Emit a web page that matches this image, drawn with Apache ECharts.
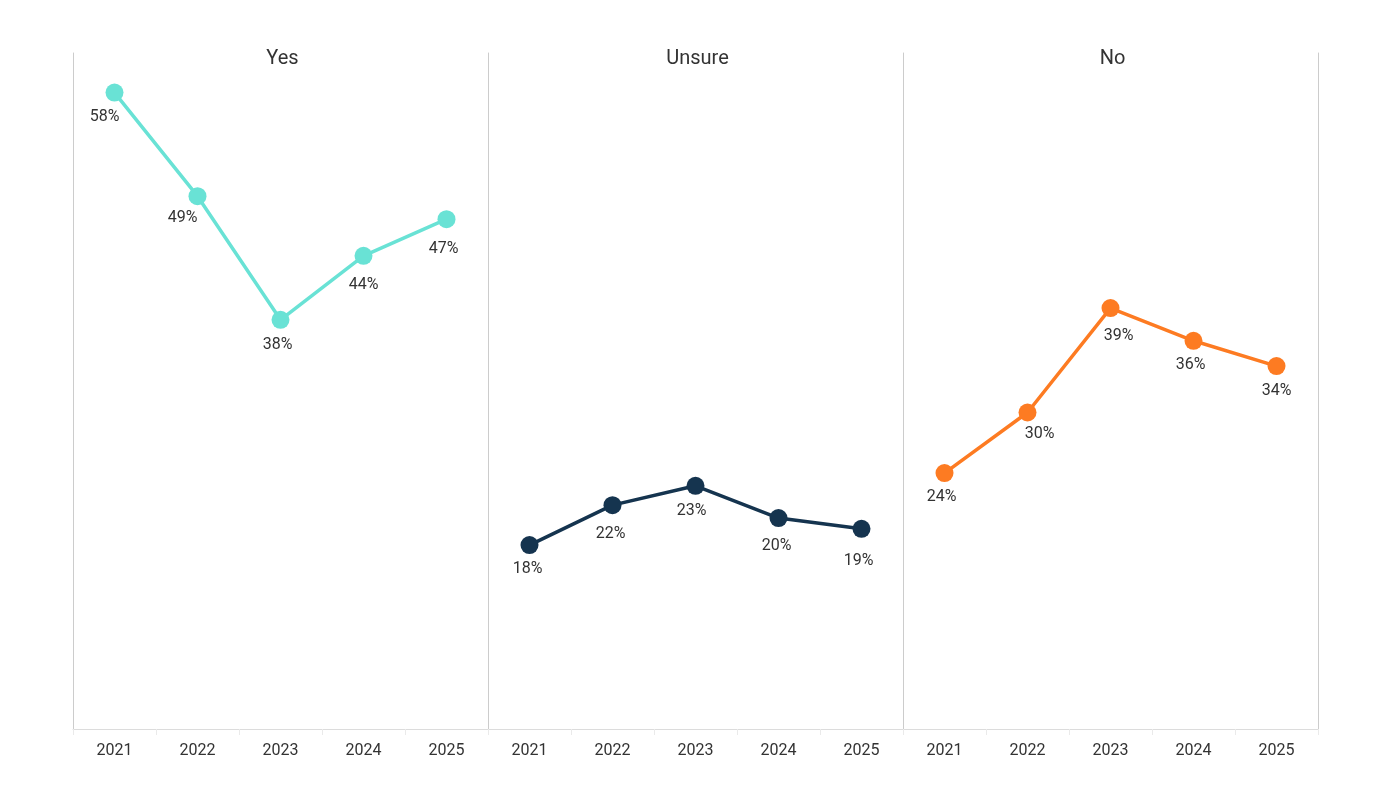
<!DOCTYPE html>
<html>
<head>
<meta charset="utf-8">
<script src="https://cdn.jsdelivr.net/npm/echarts@6/dist/echarts.min.js"></script>
<style>
html,body{margin:0;padding:0;background:#fff;}
#chart{width:1400px;height:800px;}
</style>
</head>
<body>
<div id="chart"></div>
<script>
const categories = ['2021', '2022', '2023', '2024', '2025'];
const panelTitles = ['Yes', 'Unsure', 'No'];
const yesValues = [58.0, 48.84, 37.91, 43.57, 46.81];
const unsureValues = [18.0, 21.53, 23.24, 20.39, 19.44];
const noValues = [24.36, 29.72, 38.95, 36.06, 33.82];

// label nudges (style only): [dx, dy] per point
const labelNudges = [
  [[-10, 0], [-15, -2], [-3, 1], [0, 5], [-3, 6]],
  [[-2, 0], [-2, 5], [-4, 1], [-2, 4], [-3, 8]],
  [[-3, 0], [12, -2], [8, 4], [-3, 0], [0, 1]]
];

const seriesValues = [yesValues, unsureValues, noValues];
const colors = ['#69e2d5', '#15344f', '#fd7b22'];
const FONT = 'Roboto';
const gridLeft = [73, 488, 903];
const gridWidth = 415;

const chart = echarts.init(document.getElementById('chart'), null, {renderer: 'canvas'});

const grids = [], xAxes = [], yAxes = [], series = [], titles = [];
for (let i = 0; i < 3; i++) {
  grids.push({left: gridLeft[i], width: gridWidth, top: 53, height: 676, containLabel: false});
  xAxes.push({
    type: 'category', gridIndex: i, data: categories, boundaryGap: true,
    axisLine: {show: true, lineStyle: {color: '#dcdcdc', width: 1}},
    axisTick: {show: true, length: 6, lineStyle: {color: '#eaeaea'}},
    axisLabel: {color: '#333', fontFamily: FONT, fontSize: 16, margin: 14}
  });
  yAxes.push({
    type: 'value', gridIndex: i, min: 1.74, max: 61.5,
    axisLine: {show: true, lineStyle: {color: '#cccccc', width: 1}},
    axisTick: {show: false}, axisLabel: {show: false}, splitLine: {show: false}
  });
  titles.push({
    text: panelTitles[i], left: gridLeft[i] + gridWidth / 2 + 2, top: 49, textAlign: 'center', padding: 0,
    textStyle: {color: '#333', fontFamily: FONT, fontSize: 20, fontWeight: 'normal'}
  });
  series.push({
    type: 'line', xAxisIndex: i, yAxisIndex: i,
    data: seriesValues[i].map((v, j) => ({
      value: v,
      label: {offset: labelNudges[i][j]}
    })),
    symbol: 'circle', symbolSize: 18,
    lineStyle: {color: colors[i], width: 3.5},
    itemStyle: {color: colors[i]},
    label: {show: true, position: 'bottom', distance: 7, color: '#333', fontFamily: FONT, fontSize: 16,
      formatter: p => Math.round(p.value) + '%'},
    animation: false
  });
}
// right border line of last panel
yAxes.push({
  type: 'value', gridIndex: 2, position: 'right', min: 1.74, max: 61.5,
  axisLine: {show: true, lineStyle: {color: '#cccccc', width: 1}},
  axisTick: {show: false}, axisLabel: {show: false}, splitLine: {show: false}
});

chart.setOption({
  backgroundColor: '#ffffff',
  animation: false,
  title: titles,
  grid: grids,
  xAxis: xAxes,
  yAxis: yAxes,
  series: series
});
</script>
</body>
</html>
